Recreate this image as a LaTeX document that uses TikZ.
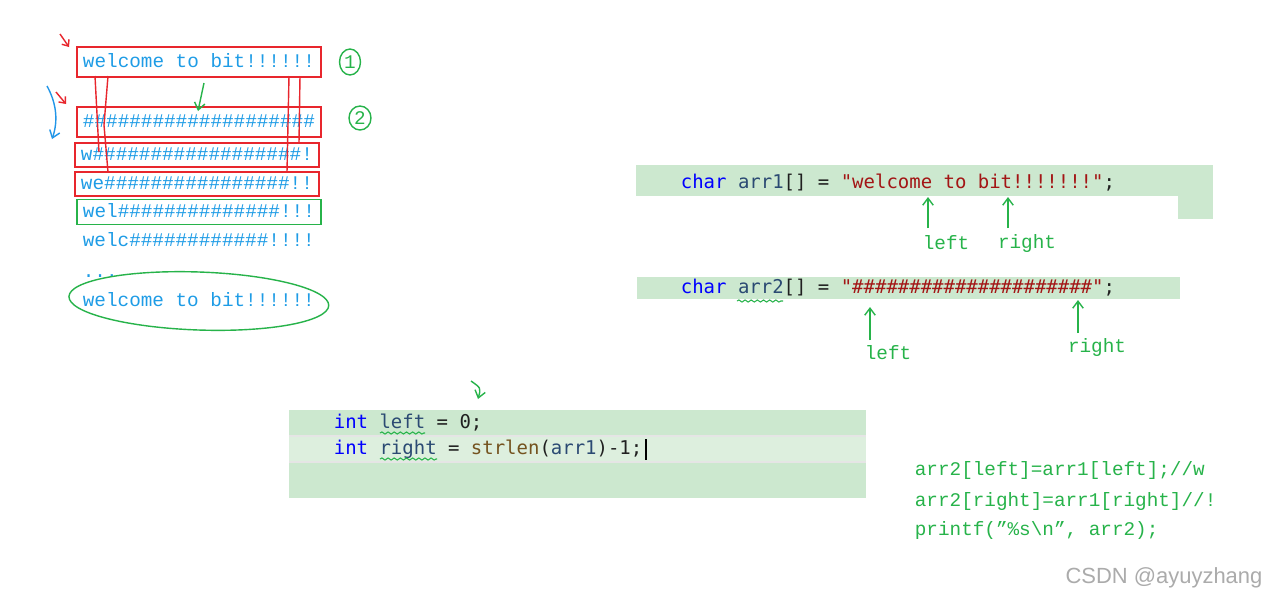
\documentclass[tikz,border=0pt]{standalone}
\usepackage{fontspec}
\newfontfamily\penfont{Liberation Mono}
\newfontfamily\codefont{DejaVu Sans Mono}
\newfontfamily\markfont{Liberation Sans}
\usetikzlibrary{arrows.meta, shapes.geometric, decorations.pathmorphing}
\definecolor{cblue}{HTML}{1E9CE6}
\definecolor{cred}{HTML}{E8262D}
\definecolor{cgreen}{HTML}{27B34A}
\definecolor{cpen}{HTML}{2196E8}
\definecolor{codebg}{HTML}{CCE8CF}
\definecolor{codebgb}{HTML}{DDEFDE}
\definecolor{ckw}{HTML}{0000FF}
\definecolor{cid}{HTML}{2B4A73}
\definecolor{cstr}{HTML}{A31515}
\definecolor{cfn}{HTML}{74531F}
\definecolor{cdark}{HTML}{202020}
\definecolor{cmark}{HTML}{ABABAB}
\tikzset{
  every picture/.style={line width=1pt},
  row/.style={font=\penfont\fontsize{11}{13}\selectfont, text=cblue, anchor=west, inner xsep=0.12cm, inner ysep=0pt, text height=6.5pt, text depth=0pt},
  redbox/.style={draw=cred, line width=1.1pt},
  greenbox/.style={draw=cgreen, line width=1.1pt},
  code/.style={font=\codefont\fontsize{10.8}{13}\selectfont, text=cdark, anchor=west, inner sep=0pt},
  pen/.style={font=\penfont\fontsize{11}{13}\selectfont, text=cgreen, inner sep=0pt},
  pointer/.style={-{Straight Barb[length=4pt, width=6pt]}, draw=cgreen, line width=0.8pt},
  redpen/.style={draw=cred, line width=0.8pt},
  wavy/.style={draw=cgreen, line width=0.6pt, decorate, decoration={snake, amplitude=0.6pt, segment length=3.5pt}},
}

\begin{document}
\begin{tikzpicture}[x=0.02cm, y=-0.02cm]
  \useasboundingbox[fill=white] (0,0) rectangle (1269,600);

  % rows of the loop
  \node[row, redbox, minimum height=0.59cm] (w1) at (76,62) {welcome to bit!!!!!!};
  \node[row, redbox, minimum height=0.60cm] (w2) at (76,122) {\#\#\#\#\#\#\#\#\#\#\#\#\#\#\#\#\#\#\#\#};
  \node[row, redbox, minimum height=0.48cm] (w3) at (74,155) {w\#\#\#\#\#\#\#\#\#\#\#\#\#\#\#\#\#\#!};
  \node[row, redbox, minimum height=0.48cm] (w4) at (74,184) {we\#\#\#\#\#\#\#\#\#\#\#\#\#\#\#\#!!};
  \node[row, greenbox, minimum height=0.50cm] (w5) at (76,212) {wel\#\#\#\#\#\#\#\#\#\#\#\#\#\#!!!};
  \node[row] (w6) at (76,241) {welc\#\#\#\#\#\#\#\#\#\#\#\#!!!!};
  \node[row] (dots) at (76,272) {...};
  \node[row] (w7) at (76,301) {welcome to bit!!!!!!};
  \draw[draw=cgreen, line width=0.8pt, rotate around={-2:(w7.center)}] (w7.center) ellipse [x radius=2.6cm, y radius=0.58cm];

  \node[pen, ellipse, draw=cgreen, line width=0.8pt, minimum width=0.42cm, minimum height=0.52cm] (n1) at (350,62) {1};
  \node[pen, ellipse, draw=cgreen, line width=0.8pt, minimum width=0.44cm, minimum height=0.48cm] (n2) at (360,118) {2};

  % pen marks
  \draw[redpen, -{Straight Barb[length=3pt, width=5pt]}] (60,34) -- (69,47);
  \draw[redpen, -{Straight Barb[length=3pt, width=5pt]}] (56,92) -- (66,104);
  \draw[draw=cpen, line width=0.8pt, -{Straight Barb[length=4pt, width=6pt]}] (47,86) .. controls (57,104) and (58,122) .. (52,139);
  \draw[pointer] (204,83) -- (198,111);
  \draw[redpen] (95,76) -- (99,152);
  \draw[redpen] (108,76) -- (104,125) -- (108,172);
  \draw[redpen] (289,76) -- (287,172);
  \draw[redpen] (300,76) -- (299,143);

  % arr1
  \fill[codebg] (636,165) rectangle (1213,196);
  \fill[codebg] (1178,196) rectangle (1213,219);
  \node[code] (c1) at (680,183) {\textcolor{ckw}{char} \textcolor{cid}{arr1}[] = \textcolor{cstr}{"welcome to bit!!!!!!!"};};
  \node[pen] (l1) at (946,243) {left};
  \node[pen] (r1) at (1027,243) {right};
  \draw[pointer] (928,228) -- (928,197);
  \draw[pointer] (1008,228) -- (1008,197);

  % arr2
  \fill[codebg] (637,277) rectangle (1180,299);
  \node[code] (c2) at (680,288) {\textcolor{ckw}{char} \textcolor{cid}{arr2}[] = \textcolor{cstr}{"\#\#\#\#\#\#\#\#\#\#\#\#\#\#\#\#\#\#\#\#\#"};};
  \draw[wavy] (737,301) -- (783,301);
  \node[pen] (l2) at (888,353) {left};
  \node[pen] (r2) at (1097,347) {right};
  \draw[pointer] (870,340) -- (870,307);
  \draw[pointer] (1078,333) -- (1078,300);

  % left and right
  \draw[pointer] (471,381) .. controls (481,388) .. (478,399);
  \fill[codebg] (289,410) rectangle (866,498);
  \fill[codebgb] (289,436) rectangle (866,462);
  \draw[gray!20, line width=0.6pt] (289,436) -- (866,436) (289,462) -- (866,462);
  \node[code] (c3) at (333,423) {\textcolor{ckw}{int} \textcolor{cid}{left} = 0;};
  \node[code] (c4) at (333,449) {\textcolor{ckw}{int} \textcolor{cid}{right} = \textcolor{cfn}{strlen}(\textcolor{cid}{arr1})-1;};
  \draw[wavy] (380,433) -- (425,433);
  \draw[wavy] (380,459) -- (437,459);
  \draw[black, line width=0.7pt] (646,439) -- (646,460);

  % notes
  \node[pen, anchor=west] (s1) at (914,470) {arr2[left]=arr1[left];//w};
  \node[pen, anchor=west] (s2) at (914,501) {arr2[right]=arr1[right]//!};
  \node[pen, anchor=west] (s3) at (914,530) {printf(”\%s\textbackslash n”, arr2);};

  \node[font=\markfont\fontsize{12.5}{15}\selectfont, text=cmark, inner sep=0pt] (wm) at (1164,578) {CSDN @ayuyzhang};
\end{tikzpicture}
\end{document}
